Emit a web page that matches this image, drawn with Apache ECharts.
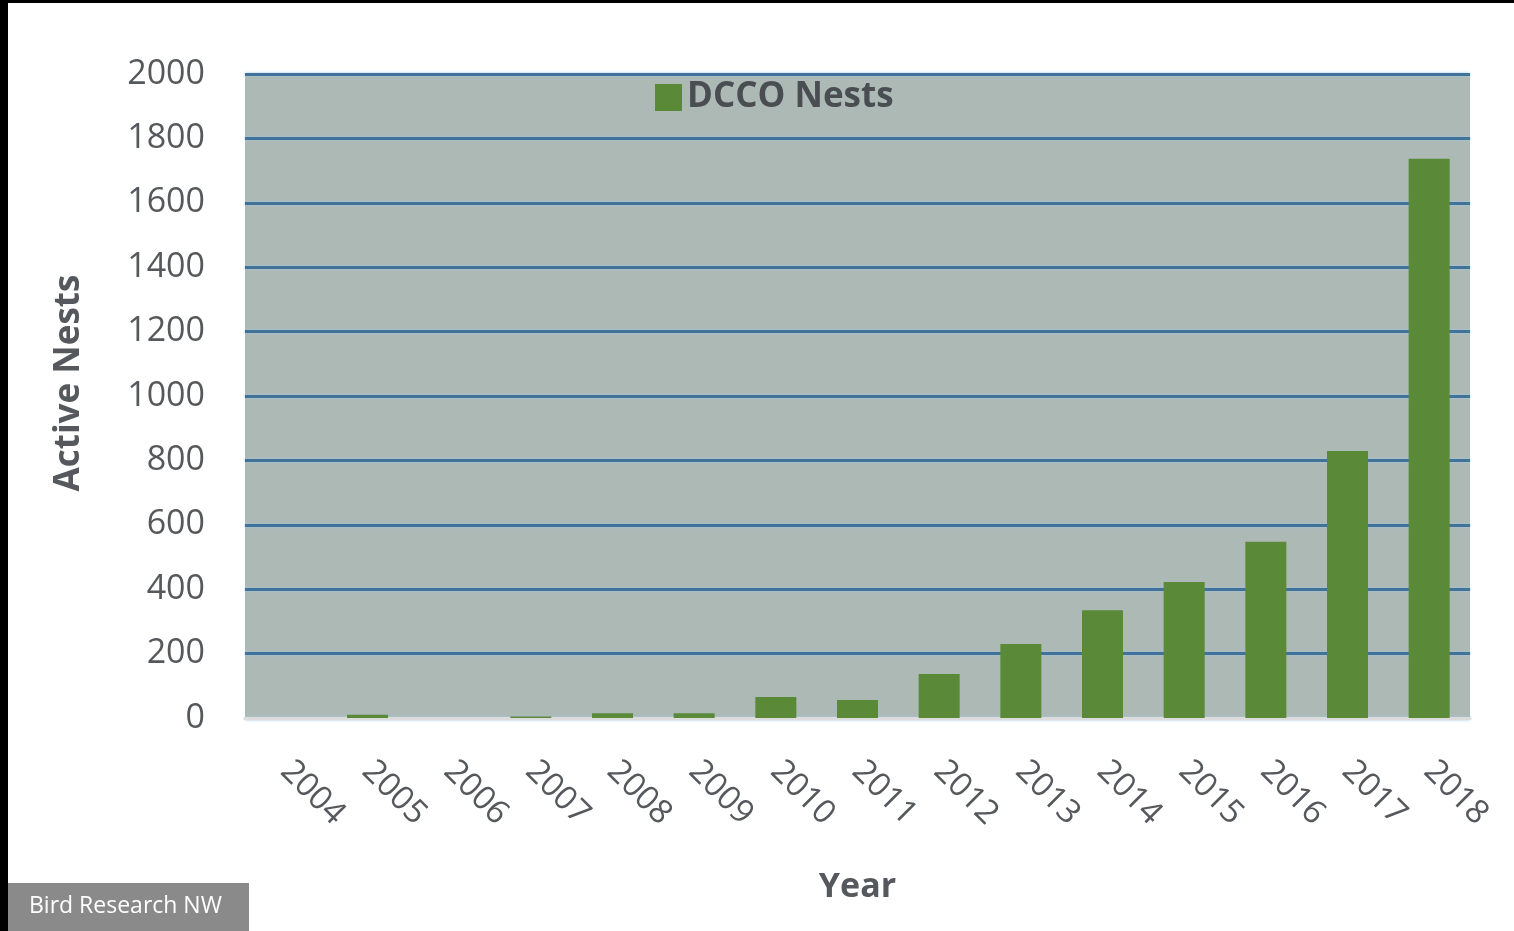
<!DOCTYPE html>
<html>
<head>
<meta charset="utf-8">
<script src="https://cdn.jsdelivr.net/npm/echarts@6/dist/echarts.min.js"></script>
<style>
  html, body { margin: 0; padding: 0; background: #ffffff; }
  #chart { width: 1514px; height: 931px; }
</style>
</head>
<body>
<div id="chart"></div>
<script>
// Active double-crested cormorant nests per year
const years = ['2004','2005','2006','2007','2008','2009','2010','2011','2012','2013','2014','2015','2016','2017','2018'];
const nests = [0, 10, 0, 5, 15, 15, 65, 56, 137, 230, 335, 422, 547, 829, 1737];
const yTicks = [0, 200, 400, 600, 800, 1000, 1200, 1400, 1600, 1800, 2000];

const chart = echarts.init(document.getElementById('chart'), null, { renderer: 'canvas' });
const textFont = '"Open Sans", "Noto Sans", sans-serif';

chart.setOption({
  backgroundColor: '#ffffff',
  textStyle: { fontFamily: textFont },
  animation: false,
  grid: {
    left: 245, right: 44, top: 74, bottom: 213,
    show: true, backgroundColor: '#adb9b4', borderWidth: 0
  },
  legend: {
    top: 75, left: 650,
    itemWidth: 27, itemHeight: 27, itemGap: 6,
    icon: 'rect',
    textStyle: { fontSize: 35, fontWeight: 'bold', color: '#4a4d52', fontFamily: textFont },
    data: ['DCCO Nests']
  },
  xAxis: {
    type: 'category',
    data: years,
    name: 'Year',
    nameLocation: 'middle',
    nameGap: 152,
    nameTextStyle: { fontSize: 34, fontWeight: 'bold', color: '#55585c' },
    axisLine: { show: true, lineStyle: { color: '#dcdcdc', width: 3 } },
    axisTick: { show: false },
    axisLabel: {
      rotate: -45, margin: 48, interval: 0,
      fontSize: 33, color: '#55585c'
    }
  },
  yAxis: {
    type: 'value',
    min: yTicks[0], max: yTicks[yTicks.length - 1], interval: 200,
    name: 'Active Nests',
    nameLocation: 'middle',
    nameGap: 158,
    nameTextStyle: { fontSize: 35, fontWeight: 'bold', color: '#55585c', padding: [0, 0, 0, 26] },
    axisLine: { show: false },
    axisTick: { show: false },
    axisLabel: { fontSize: 34, color: '#55585c', margin: 40, formatter: v => String(v) },
    splitLine: {
      show: true,
      lineStyle: { color: '#41729a', width: 3, shadowColor: '#9fc6e2', shadowBlur: 3 }
    }
  },
  series: [{
    name: 'DCCO Nests',
    type: 'bar',
    data: nests,
    barWidth: 41,
    itemStyle: { color: '#5a8a38' },
    z: 3
  }],
  graphic: [
    { type: 'rect', left: 0, top: 0, shape: { width: 1514, height: 3 }, style: { fill: '#000000' } },
    { type: 'rect', left: 0, top: 0, shape: { width: 8, height: 931 }, style: { fill: '#000000' } },
    { type: 'rect', left: 8, top: 883, shape: { width: 241, height: 48 }, style: { fill: '#8a8a8a' } },
    {
      type: 'text', left: 29, top: 895,
      style: { text: 'Bird Research NW', fill: '#ffffff', font: '23px "Open Sans", "Noto Sans", sans-serif' }
    }
  ]
});
</script>
</body>
</html>
